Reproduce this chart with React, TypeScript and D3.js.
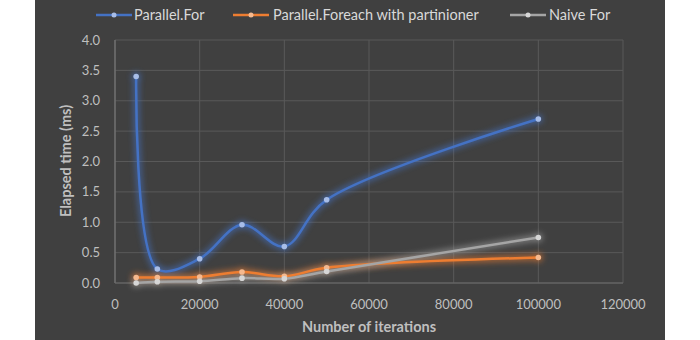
import React from "react";
import * as d3 from "d3";

const iterations = [5000, 10000, 20000, 30000, 40000, 50000, 100000];
const parallelFor = [3.4, 0.23, 0.4, 0.96, 0.6, 1.37, 2.7];
const parallelForeach = [0.09, 0.09, 0.1, 0.18, 0.11, 0.25, 0.42];
const naiveFor = [0.0, 0.02, 0.03, 0.08, 0.07, 0.19, 0.75];
const xTicks = [0, 20000, 40000, 60000, 80000, 100000, 120000];
const yTicks = [0, 0.5, 1, 1.5, 2, 2.5, 3, 3.5, 4];
const seriesNames = ["Parallel.For", "Parallel.Foreach with partinioner", "Naive For"];

const series = [
  { name: seriesNames[0], values: parallelFor, color: "#4472C4", marker: "#a7bde8", lx: 96, tx: 134 },
  { name: seriesNames[1], values: parallelForeach, color: "#ED7D31", marker: "#f5b98f", lx: 233, tx: 273 },
  { name: seriesNames[2], values: naiveFor, color: "#A5A5A5", marker: "#d6d6d6", lx: 510, tx: 549 },
];

const FONT = "Lato, 'Open Sans', sans-serif";

export default function App() {
  const W = 700, H = 340;
  const x = d3.scaleLinear().domain([0, 120000]).range([115, 623]);
  const y = d3.scaleLinear().domain([0, 4]).range([283, 40]);
  const line = d3
    .line<number>()
    .x((_, i) => x(iterations[i]))
    .y((d) => y(d))
    .curve(d3.curveCatmullRom.alpha(0.5));

  return (
    <svg width={W} height={H} style={{ position: "absolute", left: 0, top: 0 }}>
      <defs>
        <filter id="glow" x="-20%" y="-20%" width="140%" height="140%">
          <feGaussianBlur stdDeviation="3" />
        </filter>
      </defs>
      <rect x={0} y={0} width={W} height={H} fill="#ffffff" />
      <rect x={35} y={0} width={630} height={H} fill="#404040" />
      {/* grid */}
      {yTicks.map((t) => (
        <line key={"gy" + t} x1={115} x2={623} y1={y(t)} y2={y(t)} stroke="#595959" strokeWidth={1} />
      ))}
      {xTicks.map((t) => (
        <line key={"gx" + t} x1={x(t)} x2={x(t)} y1={40} y2={283} stroke="#595959" strokeWidth={1} />
      ))}
      <line x1={115} x2={115} y1={40} y2={283} stroke="#7f7f7f" strokeWidth={1} />
      <line x1={115} x2={623} y1={283} y2={283} stroke="#6a6a6a" strokeWidth={1} />
      {/* tick labels */}
      {yTicks.map((t) => (
        <text key={"ty" + t} x={100} y={y(t) + 4.5} textAnchor="end" fill="#bfbfbf" fontSize={13} fontFamily={FONT}>
          {t.toFixed(1)}
        </text>
      ))}
      {xTicks.map((t) => (
        <text key={"tx" + t} x={x(t)} y={309} textAnchor="middle" fill="#bfbfbf" fontSize={13} fontFamily={FONT}>
          {t}
        </text>
      ))}
      {/* axis titles */}
      <text
        transform={`translate(71,161) rotate(-90)`}
        textAnchor="middle"
        fill="#bfbfbf"
        fontSize={14.5}
        fontWeight="bold"
        fontFamily={FONT}
      >
        Elapsed time (ms)
      </text>
      <text x={369} y={332} textAnchor="middle" fill="#bfbfbf" fontSize={14.5} fontWeight="bold" fontFamily={FONT}>
        Number of iterations
      </text>
      {/* series glow */}
      {series.map((s) => (
        <g key={"glow" + s.name} filter="url(#glow)" opacity={0.75}>
          <path d={line(s.values) || ""} fill="none" stroke={s.color} strokeWidth={5} />
          {s.values.map((v, i) => (
            <circle key={i} cx={x(iterations[i])} cy={y(v)} r={4} fill={s.color} />
          ))}
        </g>
      ))}
      {/* series lines */}
      {series.map((s) => (
        <g key={"s" + s.name}>
          <path d={line(s.values) || ""} fill="none" stroke={s.color} strokeWidth={2.5} strokeLinecap="round" />
          {s.values.map((v, i) => (
            <circle key={i} cx={x(iterations[i])} cy={y(v)} r={2.8} fill={s.marker} />
          ))}
        </g>
      ))}
      {/* legend */}
      {series.map((s) => (
        <g key={"l" + s.name}>
          <line x1={s.lx} x2={s.lx + 36} y1={15} y2={15} stroke={s.color} strokeWidth={2.5} />
          <circle cx={s.lx + 18} cy={15} r={2.5} fill={s.marker} />
          <text x={s.tx} y={20} fill="#d9d9d9" fontSize={14.5} fontFamily={FONT}>
            {s.name}
          </text>
        </g>
      ))}
    </svg>
  );
}
